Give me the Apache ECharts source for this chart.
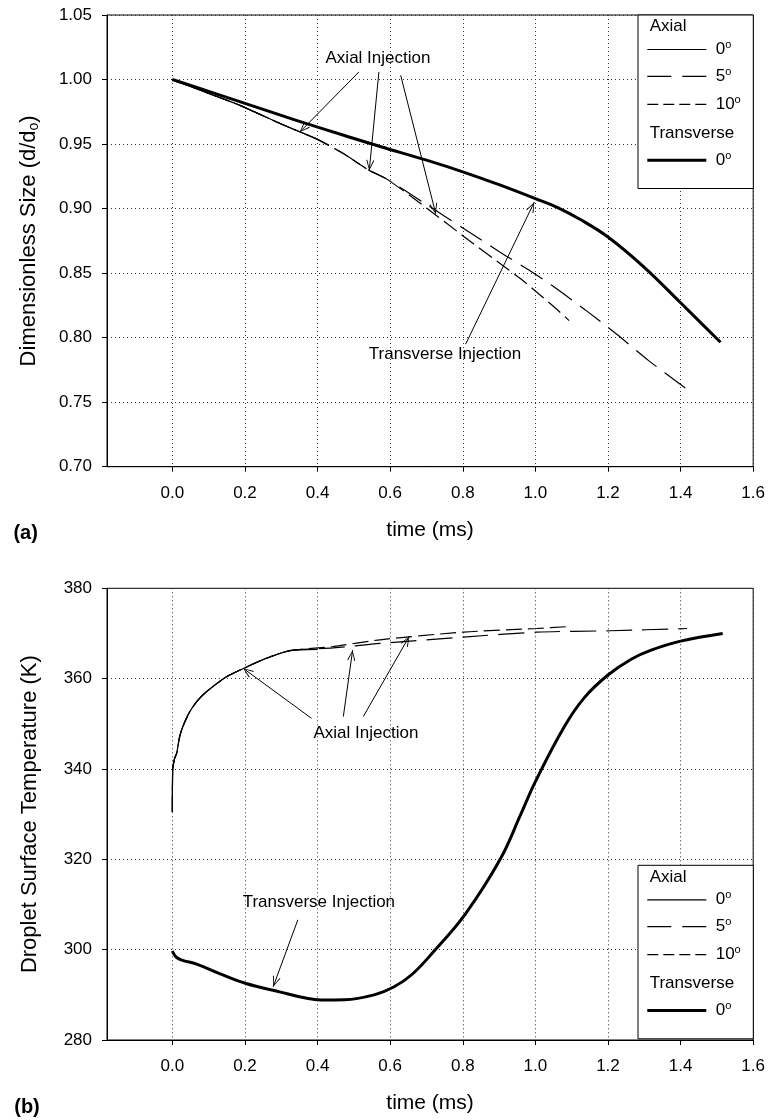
<!DOCTYPE html>
<html>
<head>
<meta charset="utf-8">
<script src="https://cdn.jsdelivr.net/npm/echarts@6/dist/echarts.min.js"></script>
<style>
html,body{margin:0;padding:0;background:#fff;}
#chart{width:768px;height:1120px;}
</style>
</head>
<body>
<div id="chart"></div>
<script>
var FONT='Liberation Sans, Arial, Helvetica, sans-serif';
var timeTicks=[0,0.2,0.4,0.6,0.8,1.0,1.2,1.4,1.6];

// (a) dimensionless size d/do
var sizeStart=[[0,1.0],[0.1,0.9893],[0.186,0.980],[0.3,0.9655],[0.397,0.954]];
var sizeAxial0=sizeStart;
var sizeAxial5=sizeStart.concat([[0.471,0.9426],[0.5425,0.9296],[0.59,0.923],[0.7,0.9032],[0.8,0.885],[0.903,0.8662],[0.981,0.8526],[1.046,0.8404],[1.1375,0.8215],[1.225,0.8024],[1.312,0.7822],[1.413,0.761]]);
var sizeAxial10=sizeStart.concat([[0.471,0.9426],[0.5425,0.9296],[0.59,0.923],[0.7,0.9005],[0.8,0.879],[0.926,0.8526],[0.963,0.8448],[1.004,0.8352],[1.055,0.823],[1.093,0.8132]]);
var sizeTransverse=[[0,1.0],[0.1,0.9908],[0.2,0.9815],[0.3,0.9722],[0.37,0.9658],[0.47,0.957],[0.572,0.9481],[0.7,0.9375],[0.802,0.9283],[0.9,0.9185],[1.0,0.9077],[1.06,0.901],[1.124,0.8915],[1.2,0.878],[1.3,0.8545],[1.4,0.827],[1.51,0.7964]];

// (b) droplet surface temperature
var tempStart=[[0,330.5],[0.001,339.8],[0.006,342.3],[0.012,343.5],[0.02,347.1],[0.029,349.4],[0.048,352.7],[0.07,355.2],[0.094,357.1],[0.149,360.4],[0.2,362.4],[0.259,364.5],[0.324,366.2]];
var tempAxial0=tempStart.concat([[0.4,366.5]]);
var tempAxial5=tempStart.concat([[0.443,366.8],[0.572,367.8],[0.802,369.2],[1.004,370.3],[1.207,370.6],[1.418,371.1]]);
var tempAxial10=tempStart.concat([[0.443,367.1],[0.572,368.6],[0.802,370.3],[1.004,371.1],[1.087,371.5]]);
var tempTransverse=[[0,299.7],[0.01,298.4],[0.026,297.7],[0.067,296.8],[0.13,294.7],[0.203,292.5],[0.298,290.6],[0.36,289.4],[0.41,288.85],[0.475,288.9],[0.556,290],[0.611,291.8],[0.66,294.5],[0.72,299.6],[0.808,308],[0.903,320],[0.96,330],[1.0,337.2],[1.08,349.4],[1.135,355.8],[1.2,360.8],[1.264,364.3],[1.319,366.3],[1.4,368.3],[1.516,370]];

// annotation arrows [from, to] and label anchors
var sizeArrows=[[[0.514,1.0059],[0.351,0.9593]],[[0.569,1.0059],[0.5425,0.9296]],[[0.629,1.0033],[0.7256,0.896]],[[0.808,0.795],[0.997,0.905]]];
var sizeNotes=[['Axial Injection',0.5664,1.0165],['Transverse Injection',0.751,0.7874]];
var tempArrows=[[[0.3835,351.2],[0.195,362.3]],[[0.471,351.6],[0.4966,366.3]],[[0.526,351.6],[0.653,369.4]],[[0.3457,306.6],[0.2778,291.8]]];
var tempNotes=[['Axial Injection',0.5333,347.9],['Transverse Injection',0.4036,310.4]];

var arrowHead='path://M0,0L4,10L3.1,10.4L0,1.8L-3.1,10.4L-4,10ZM0,-10.4L0.01,-10.4L0,-10.39Z';

function xAxisFor(gi){
    return {
        type:'value',gridIndex:gi,min:-0.18,max:1.6,splitNumber:9,
        name:'time (ms)',nameLocation:'middle',nameGap:53,
        nameTextStyle:{fontSize:21,color:'#000',fontFamily:FONT},
        axisLine:{show:true,onZero:false,lineStyle:{color:'#000',width:1}},
        axisTick:{show:true,length:5,customValues:timeTicks,lineStyle:{color:'#000'}},
        axisLabel:{customValues:timeTicks,fontSize:17,color:'#000',margin:18,fontFamily:FONT,
            formatter:function(v){return v<-0.01?'':v.toFixed(1);}},
        splitLine:{show:true,lineStyle:{color:'#333',type:[1,3],width:1}}
    };
}
function yAxisFor(gi,min,max,step,name,digits){
    return {
        type:'value',gridIndex:gi,min:min,max:max,interval:step,
        name:name,nameLocation:'middle',nameGap:66,
        nameTextStyle:{fontSize:22,color:'#000',fontFamily:FONT,
            rich:{sub:{fontSize:14,fontFamily:FONT,color:'#000',padding:[10,0,0,0]}}},
        axisLine:{show:true,onZero:false,lineStyle:{color:'#000',width:1}},
        axisTick:{show:true,length:5,lineStyle:{color:'#000'}},
        axisLabel:{fontSize:17,color:'#000',margin:15,fontFamily:FONT,
            formatter:function(v){return v.toFixed(digits);}},
        splitLine:{show:true,lineStyle:{color:'#333',type:[1,3],width:1}}
    };
}
function lineSeries(gi,data,width,dash){
    return {type:'line',xAxisIndex:gi,yAxisIndex:gi,data:data,showSymbol:false,symbol:'none',
        smooth:width>2?0.4:0.25,silent:true,animation:false,
        lineStyle:{color:'#000',width:width,type:dash||'solid'}};
}
function withNotes(s,arrows,notes){
    s.markLine={silent:true,animation:false,symbol:['none',arrowHead],symbolSize:[8,21],
        label:{show:false},lineStyle:{color:'#000',width:1,type:'solid'},
        data:arrows.map(function(a){return [{coord:a[0]},{coord:a[1]}];})};
    s.markPoint={silent:true,animation:false,symbol:'rect',symbolSize:1,itemStyle:{color:'rgba(0,0,0,0)'},
        label:{show:true,position:'inside',color:'#000',fontSize:17,fontFamily:FONT,formatter:function(p){return p.name;}},
        data:notes.map(function(n){return {name:n[0],coord:[n[1],n[2]]};})};
    return s;
}
function legendBox(top){
    var x0=647.3,x1=706.3,lx=715.7;
    var deg={sup:{fontSize:11,fontFamily:FONT,fill:'#000',padding:[0,0,9,0]}};
    function txt(x,y,t){return {type:'text',x:x,y:y,z:100,style:{text:t,rich:deg,fontSize:17,fontFamily:FONT,fill:'#000',verticalAlign:'middle'}};}
    function ln(y,w,dash){return {type:'line',z:100,shape:{x1:x0,y1:y,x2:x1,y2:y},style:{stroke:'#000',lineWidth:w,lineDash:dash||null}};}
    return [
        {type:'rect',z:99,shape:{x:638,y:top,width:115.3,height:173.5},style:{fill:'#fff',stroke:'#000',lineWidth:1}},
        txt(649.7,top+11.7,'Axial'),
        ln(top+34.5,1.2),txt(lx,top+34.5,'0{sup|o}'),
        ln(top+61.3,1.2,[24,11]),txt(lx,top+61.3,'5{sup|o}'),
        ln(top+89.3,1.2,[11,5]),txt(lx,top+89.3,'10{sup|o}'),
        txt(649.7,top+118.5,'Transverse'),
        ln(top+145.2,3),txt(lx,top+145.2,'0{sup|o}')
    ];
}

var chart=echarts.init(document.getElementById('chart'));
chart.setOption({
    backgroundColor:'#fff',
    animation:false,
    grid:[
        {left:107,top:15,width:646.3,height:451.7,show:true,borderColor:'#000',borderWidth:1,backgroundColor:'transparent'},
        {left:107,top:588.3,width:646.3,height:451.7,show:true,borderColor:'#000',borderWidth:1,backgroundColor:'transparent'}
    ],
    xAxis:[xAxisFor(0),xAxisFor(1)],
    yAxis:[
        yAxisFor(0,0.7,1.05,0.05,'Dimensionless Size (d/d{sub|o})',2),
        yAxisFor(1,280,380,20,'Droplet Surface Temperature (K)',0)
    ],
    series:[
        lineSeries(0,sizeAxial0,1.2),
        lineSeries(0,sizeAxial5,1.2,[26,10]),
        lineSeries(0,sizeAxial10,1.2,[16,6]),
        withNotes(lineSeries(0,sizeTransverse,3),sizeArrows,sizeNotes),
        lineSeries(1,tempAxial0,1.2),
        lineSeries(1,tempAxial5,1.2,[26,10]),
        lineSeries(1,tempAxial10,1.2,[16,6]),
        withNotes(lineSeries(1,tempTransverse,3),tempArrows,tempNotes)
    ],
    graphic:legendBox(15).concat(legendBox(865.3)).concat([
        {type:'text',x:25.6,y:533,z:100,style:{text:'(a)',fontSize:20,fontWeight:'bold',fontFamily:FONT,fill:'#000',align:'center',verticalAlign:'middle'}},
        {type:'text',x:27,y:1107,z:100,style:{text:'(b)',fontSize:20,fontWeight:'bold',fontFamily:FONT,fill:'#000',align:'center',verticalAlign:'middle'}}
    ])
});
</script>
</body>
</html>
